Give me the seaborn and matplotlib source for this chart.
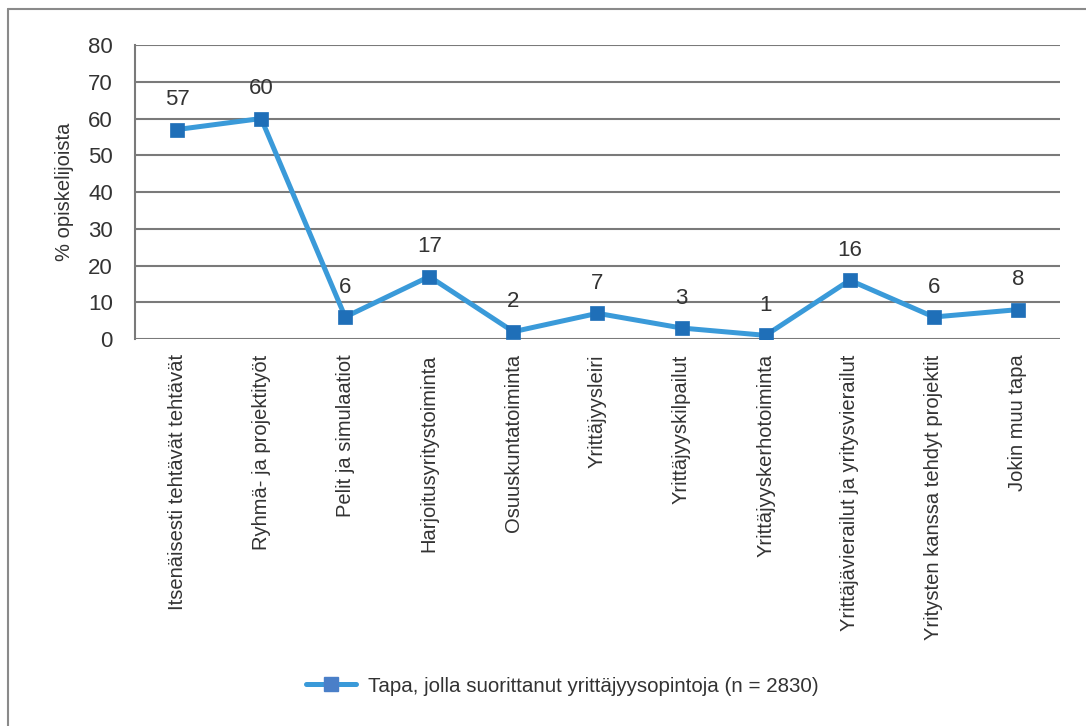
# Line chart: ways students completed entrepreneurship studies
# import required libraries
import pandas as pd
import numpy as np
import matplotlib
matplotlib.use('Agg')
import matplotlib.pyplot as plt
import seaborn as sns
from matplotlib.lines import Line2D

# data
categories = [
    'Itsenäisesti tehtävät tehtävät',
    'Ryhmä- ja projektityöt',
    'Pelit ja simulaatiot',
    'Harjoitusyritystoiminta',
    'Osuuskuntatoiminta',
    'Yrittäjyysleiri',
    'Yrittäjyyskilpailut',
    'Yrittäjyyskerhotoiminta',
    'Yrittäjävierailut ja yritysvierailut',
    'Yritysten kanssa tehdyt projektit',
    'Jokin muu tapa',
]
values = [57, 60, 6, 17, 2, 7, 3, 1, 16, 6, 8]
y_ticks = [0, 10, 20, 30, 40, 50, 60, 70, 80]
series_name = 'Tapa, jolla suorittanut yrittäjyysopintoja (n = 2830)'
y_label = '% opiskelijoista'

df = pd.DataFrame({'pos': np.arange(len(categories)), 'value': values})

sns.set_style('white')
plt.rcParams['font.family'] = ['Liberation Sans', 'DejaVu Sans']
text_color = '#333333'
grid_color = '#7a7a7a'
line_color = '#3a9ad9'
marker_color = '#1f6fb8'

fig, ax = plt.subplots(figsize=(10.86, 7.26), dpi=100)
fig.subplots_adjust(left=0.1243, right=0.976, top=0.938, bottom=0.533)

sns.lineplot(data=df, x='pos', y='value', ax=ax, color=line_color, linewidth=3.6,
             marker='s', markersize=10, markerfacecolor=marker_color,
             markeredgecolor=marker_color, markeredgewidth=0.5, label=series_name,
             legend=False)

# value labels above the points
for x, v in zip(df['pos'], df['value']):
    ax.annotate(str(v), (x, v), xytext=(0, 14), textcoords='offset points',
                ha='center', va='bottom', fontsize=16, color=text_color)

# axes styling
ax.set_xlim(-0.5, len(categories) - 0.5)
ax.set_ylim(0, 80)
ax.set_yticks(y_ticks)
ax.set_xticks(df['pos'])
ax.set_xticklabels(categories, rotation=90, ha='center', va='top')
ax.tick_params(axis='both', length=0, colors=text_color)
ax.tick_params(axis='x', labelsize=14.5, pad=11)
ax.tick_params(axis='y', labelsize=16, pad=16)
ax.set_xlabel('')
ax.set_ylabel(y_label, fontsize=14.5, color=text_color, labelpad=10)
ax.yaxis.grid(True, color=grid_color, linewidth=1.5)
ax.set_axisbelow(True)
for side in ['top', 'right', 'bottom']:
    ax.spines[side].set_visible(False)
ax.spines['left'].set_color(grid_color)
ax.spines['left'].set_linewidth(1.5)

# legend at the bottom
handle = Line2D([], [], color=line_color, linewidth=3.6, marker='s', markersize=10,
                markerfacecolor='#4a7fc8', markeredgecolor='#4a7fc8')
fig.legend([handle], [series_name], loc='center', bbox_to_anchor=(0.518, 0.055),
           frameon=False, fontsize=14.8, handlelength=2.4, handletextpad=0.6,
           labelcolor=text_color)

# outer frame (top and left edges visible)
fig.add_artist(Line2D([0.0074, 1.0], [0.9876, 0.9876], transform=fig.transFigure,
                      color='#8a8a8a', linewidth=1.5))
fig.add_artist(Line2D([0.0074, 0.0074], [0.0, 0.9876], transform=fig.transFigure,
                      color='#8a8a8a', linewidth=1.5))

plt.savefig('out.png', dpi=100)
